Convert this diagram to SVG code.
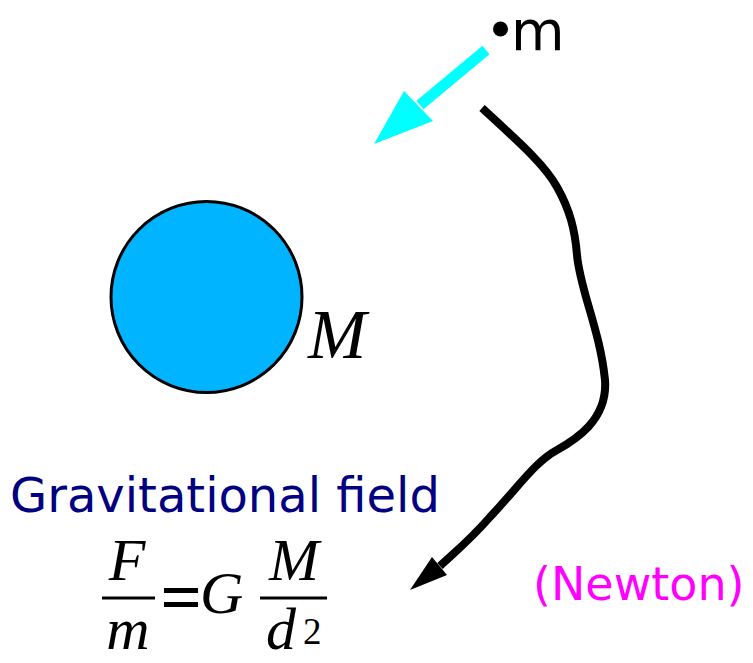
<svg xmlns="http://www.w3.org/2000/svg" width="753" height="663" viewBox="0 0 753 663">
<style>
.sans{font-family:"DejaVu Sans","Liberation Sans",sans-serif}
.math{font-family:"Liberation Serif","Times New Roman",serif;font-style:italic}
.bar{stroke:#000;stroke-width:3}
</style>
<rect width="753" height="663" fill="#fff"/>
<g id="connectors">
  <line x1="486" y1="50" x2="420" y2="105" stroke="#00ffff" stroke-width="11"/>
  <polygon points="374,144 404,91 433,121" fill="#00ffff"/>
  <path d="M482,108 C520,143 545,165 557,187 C570,210 575,230 577,255 C580,290 600,330 605,380 C608,420 575,440 557,450 C535,462 520,485 490,517 C470,540 455,552 440,566" fill="none" stroke="#000" stroke-width="8" stroke-linejoin="round"/>
  <polygon points="410,590 432,557 447,575" fill="#000"/>
</g>
<g id="planet">
  <circle cx="206.5" cy="297" r="95.5" fill="#00b4ff" stroke="#000" stroke-width="3"/>
  <text x="308" y="358" class="math" font-size="70">M</text>
</g>
<g id="mass">
  <circle cx="500.5" cy="29" r="7.5" fill="#000"/>
  <text x="511" y="50" class="sans" font-size="55">m</text>
</g>
<g id="label">
  <text x="10" y="512" class="sans" font-size="48" fill="#000080">Gravitational field</text>
</g>
<g id="formula">
  <text x="127" y="580" class="math" font-size="60" text-anchor="middle">F</text>
  <line x1="102" y1="598" x2="155" y2="598" class="bar"/>
  <text x="128" y="649" class="math" font-size="60" text-anchor="middle">m</text>
  <rect x="164" y="588" width="34" height="5" fill="#000"/>
  <rect x="164" y="602" width="34" height="5" fill="#000"/>
  <text x="200" y="613" class="math" font-size="60">G</text>
  <line x1="260" y1="598" x2="327" y2="598" class="bar"/>
  <text x="294" y="580" class="math" font-size="60" text-anchor="middle">M</text>
  <text x="266" y="649" class="math" font-size="60">d</text>
  <text x="303" y="644" font-family="Liberation Serif,serif" font-size="37">2</text>
</g>
<g id="newton">
  <text x="533" y="600" class="sans" font-size="46" fill="#ff00ff">(Newton)</text>
</g>
</svg>
